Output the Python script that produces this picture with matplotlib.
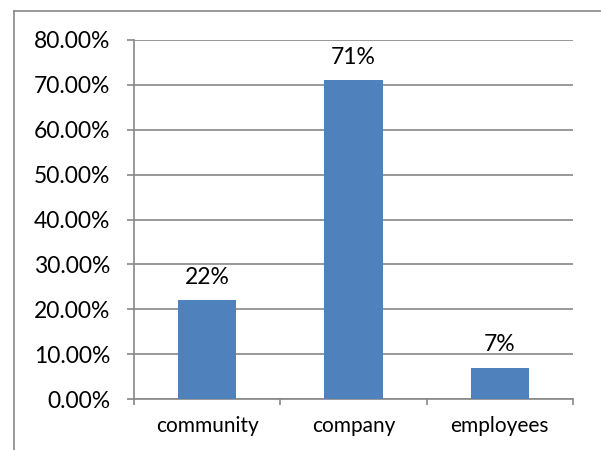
import numpy as np
import matplotlib.pyplot as plt
from matplotlib.lines import Line2D

# Data
categories = ["community", "company", "employees"]
shares = [22, 71, 7]          # percent
labels = ["22%", "71%", "7%"]
y_ticks = [0, 10, 20, 30, 40, 50, 60, 70, 80]

W, H = 601, 450
fig = plt.figure(figsize=(W / 100, H / 100), dpi=100)
plt.rcParams['font.family'] = ['Lato', 'DejaVu Sans']

grey = "#888888"
bar_color = "#4F81BD"

# outer chart frame (only left and top edges visible)
fig.add_artist(Line2D([14 / W, 14 / W], [0, 1 - 11 / H], color=grey, lw=1.2))
fig.add_artist(Line2D([14 / W, 1], [1 - 11 / H, 1 - 11 / H], color=grey, lw=1.2))

ax = fig.add_axes([134 / W, (H - 399) / H, 439 / W, 359 / H])

x = np.arange(len(categories))
ax.bar(x, shares, width=0.4, color=bar_color, zorder=3)

for xi, v, lab in zip(x, shares, labels):
    ax.text(xi, v + 3.6, lab, ha="center", va="baseline", fontsize=16.5)

ax.set_xlim(-0.5, len(categories) - 0.5)
ax.set_ylim(0, 80)
ax.set_yticks(y_ticks)
ax.set_yticklabels(["{:.2f}%".format(t) for t in y_ticks], fontsize=16.5)
ax.set_xticks(x)
ax.set_xticklabels(categories, fontsize=15)
ax.set_xticks(np.arange(len(categories) + 1) - 0.5, minor=True)

ax.grid(axis="y", color=grey, lw=1.2, zorder=0)
for s in ["top", "right"]:
    ax.spines[s].set_visible(False)
for s in ["left", "bottom"]:
    ax.spines[s].set_color(grey)
    ax.spines[s].set_linewidth(1.2)

ax.tick_params(axis="y", length=5, width=1.2, color=grey, pad=12)
ax.tick_params(axis="x", which="major", length=0, pad=12)
ax.tick_params(axis="x", which="minor", length=4, width=1.2, color=grey)

fig.savefig("out.png", dpi=100)
